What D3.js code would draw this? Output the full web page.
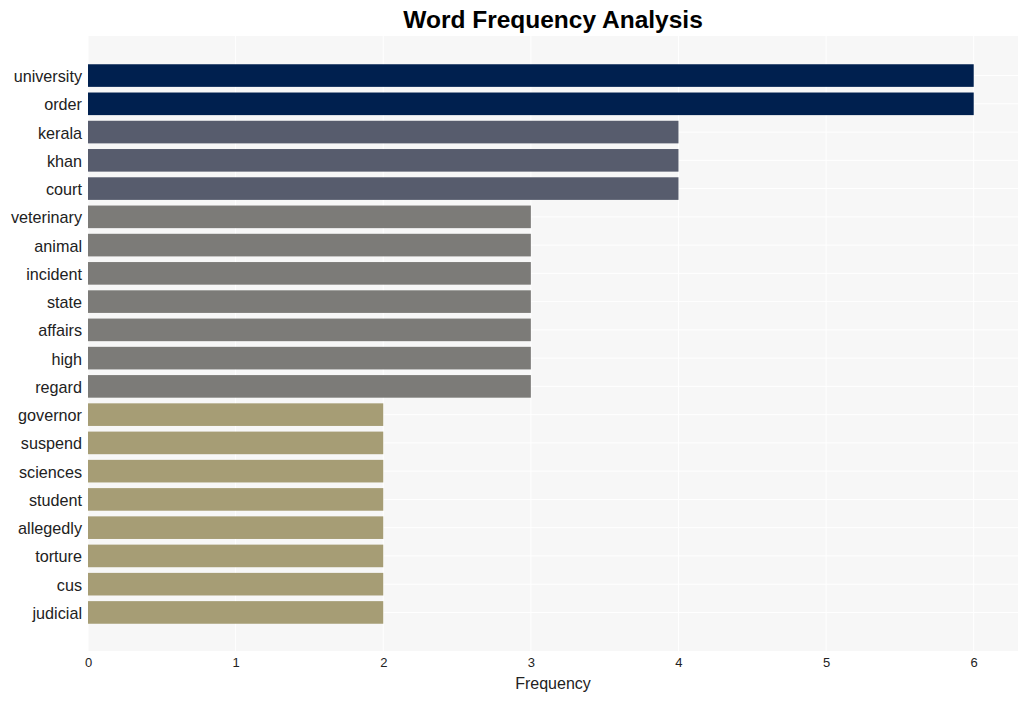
<!DOCTYPE html>
<html>
<head>
<meta charset="utf-8">
<script src="https://cdn.jsdelivr.net/npm/d3@7"></script>
<style>
  body { margin: 0; background: #fff; }
  text { font-family: "Liberation Sans", Arial, sans-serif; }
</style>
</head>
<body>
<svg id="chart" width="1028" height="701"></svg>
<script>
// words and their counts, top to bottom
var words = ["university", "order", "kerala", "khan", "court", "veterinary", "animal",
  "incident", "state", "affairs", "high", "regard", "governor", "suspend", "sciences",
  "student", "allegedly", "torture", "cus", "judicial"];
var counts = [6, 6, 4, 4, 4, 3, 3, 3, 3, 3, 3, 3, 2, 2, 2, 2, 2, 2, 2, 2];
var xTicks = [0, 1, 2, 3, 4, 5, 6];

var svg = d3.select("#chart"),
    plotLeft = 88, plotRight = 1018, plotTop = 36, plotBottom = 651;

var x = d3.scaleLinear().domain([0, 6.3]).range([plotLeft, plotRight]);
var y = d3.scaleBand().domain(words).range([plotTop, plotBottom + 1]).paddingInner(0.2).paddingOuter(1);

// colour by count
var color = d3.scaleOrdinal().domain([6, 4, 3, 2])
    .range(["#00204f", "#575c6d", "#7c7b78", "#a69d75"]);

// plot background
svg.append("rect")
    .attr("x", plotLeft).attr("y", plotTop)
    .attr("width", plotRight - plotLeft).attr("height", plotBottom - plotTop)
    .attr("fill", "#f7f7f7");

// grid
svg.selectAll(".vgrid").data(xTicks).enter().append("line")
    .attr("x1", function(d) { return x(d); }).attr("x2", function(d) { return x(d); })
    .attr("y1", plotTop).attr("y2", plotBottom)
    .attr("stroke", "#fff").attr("stroke-width", 1);
svg.selectAll(".hgrid").data(words).enter().append("line")
    .attr("x1", plotLeft).attr("x2", plotRight)
    .attr("y1", function(d) { return y(d) + y.bandwidth() / 2; })
    .attr("y2", function(d) { return y(d) + y.bandwidth() / 2; })
    .attr("stroke", "#fff").attr("stroke-width", 1);

// bars
svg.selectAll(".bar").data(words).enter().append("rect")
    .attr("x", x(0))
    .attr("y", function(d) { return y(d); })
    .attr("width", function(d, i) { return x(counts[i]) - x(0); })
    .attr("height", y.bandwidth())
    .attr("fill", function(d, i) { return color(counts[i]); });

// x axis
var xAxis = svg.append("g")
    .attr("transform", "translate(0," + plotBottom + ")")
    .call(d3.axisBottom(x).tickValues(xTicks).tickFormat(d3.format("d")).tickSize(0).tickPadding(7));
xAxis.select(".domain").remove();
xAxis.selectAll("text").attr("font-size", 13).attr("fill", "#222")
    .attr("font-family", "'Liberation Sans', Arial, sans-serif");

// y axis
var yAxis = svg.append("g")
    .attr("transform", "translate(" + plotLeft + ",0)")
    .call(d3.axisLeft(y).tickSize(0).tickPadding(6));
yAxis.select(".domain").remove();
yAxis.selectAll("text").attr("font-size", 16.2).attr("fill", "#222").attr("dy", "0.4em")
    .attr("font-family", "'Liberation Sans', Arial, sans-serif");

// titles
svg.append("text")
    .attr("x", (plotLeft + plotRight) / 2).attr("y", 28)
    .attr("text-anchor", "middle")
    .attr("font-size", 24.5).attr("font-weight", "bold").attr("fill", "#000")
    .text("Word Frequency Analysis");

svg.append("text")
    .attr("x", (plotLeft + plotRight) / 2).attr("y", 689)
    .attr("text-anchor", "middle")
    .attr("font-size", 16).attr("fill", "#222")
    .text("Frequency");
</script>
</body>
</html>
